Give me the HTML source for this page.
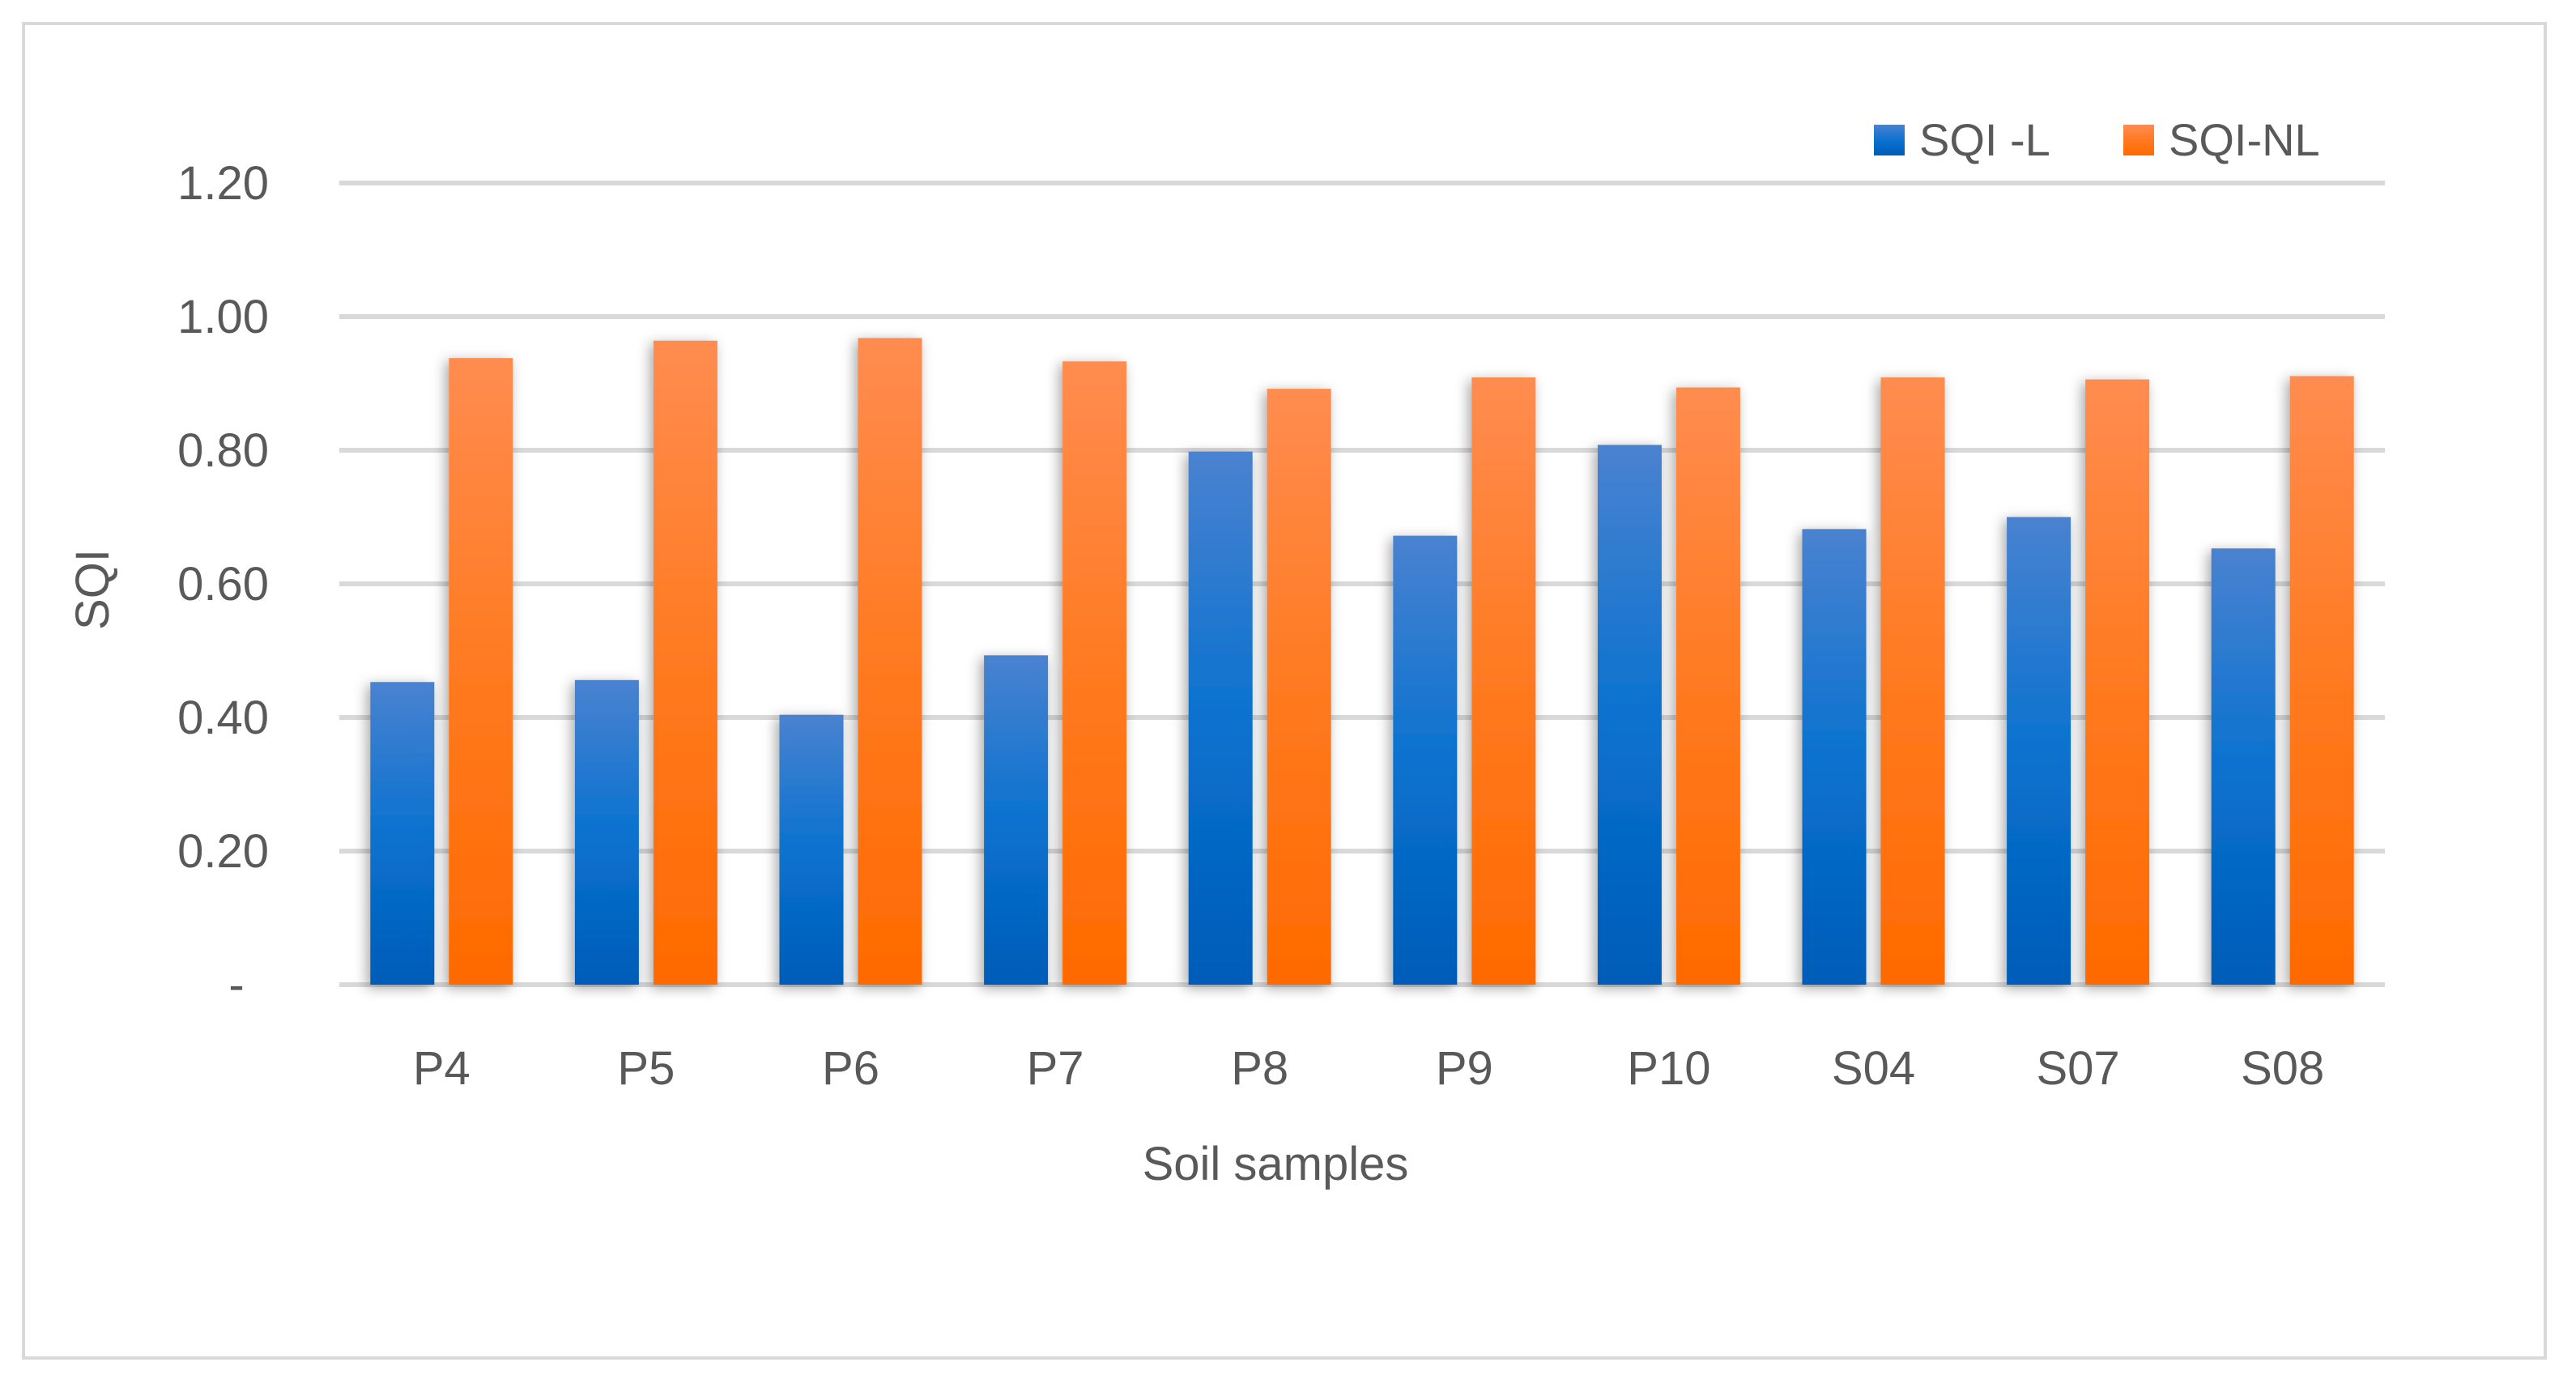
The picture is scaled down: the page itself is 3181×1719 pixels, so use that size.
<!DOCTYPE html>
<html><head><meta charset="utf-8"><style>
body{margin:0;background:#fff;}
svg{display:block;font-family:"Liberation Sans",sans-serif;}
</style></head><body>
<svg id="chart" width="3181" height="1719" viewBox="0 0 3181 1719" xmlns="http://www.w3.org/2000/svg">
<defs>
<linearGradient id="gb" x1="0" y1="0" x2="0" y2="1"><stop offset="0" stop-color="#4a82d0"/><stop offset="0.5" stop-color="#0a72cf"/><stop offset="1" stop-color="#005cb8"/></linearGradient>
<linearGradient id="go" x1="0" y1="0" x2="0" y2="1"><stop offset="0" stop-color="#ff8c50"/><stop offset="0.5" stop-color="#ff7a20"/><stop offset="1" stop-color="#ff6a00"/></linearGradient>
<filter id="sh" x="-30%" y="-10%" width="160%" height="120%"><feDropShadow dx="-4" dy="4" stdDeviation="8" flood-color="#000" flood-opacity="0.35"/></filter>
</defs>
<rect x="29" y="29" width="3114" height="1648" fill="#fff" stroke="#d9d9d9" stroke-width="4"/>
<g id="grid"></g>
<g id="bars"></g>
<g id="labels" fill="#595959" font-size="58"></g>
<text transform="translate(134,728) rotate(-90)" text-anchor="middle" fill="#595959" font-size="58">SQI</text>
<text x="1575" y="1457" text-anchor="middle" fill="#595959" font-size="58">Soil samples</text>
<g>
<rect x="2314" y="154" width="38" height="38" fill="url(#gb)"/>
<text x="2370" y="192" fill="#595959" font-size="56">SQI -L</text>
<rect x="2622" y="154" width="38" height="38" fill="url(#go)"/>
<text x="2678" y="192" fill="#595959" font-size="56">SQI-NL</text>
</g>
</svg>
<script>
const categories = ["P4","P5","P6","P7","P8","P9","P10","S04","S07","S08"];
const sqiL = [0.453,0.456,0.404,0.493,0.798,0.672,0.808,0.682,0.700,0.653];
const sqiNL = [0.938,0.964,0.968,0.933,0.892,0.909,0.894,0.909,0.906,0.911];
const tickValues = [0,0.2,0.4,0.6,0.8,1.0,1.2];
const tickLabels = ["-","0.20","0.40","0.60","0.80","1.00","1.20"];

const NS="http://www.w3.org/2000/svg";
const x0=419,x1=2945,yZero=1216,yPerUnit=825;
const y=v=>yZero-v*yPerUnit;
const band=(x1-x0)/categories.length;
const bw=79,gap=18;
function mk(tag,attrs,parent){const e=document.createElementNS(NS,tag);for(const k in attrs)e.setAttribute(k,attrs[k]);parent.appendChild(e);return e;}
const grid=document.getElementById('grid'),bars=document.getElementById('bars'),labels=document.getElementById('labels');
tickValues.forEach((v,i)=>{
  const l=mk('line',{x1:x0,x2:x1,y1:y(v),y2:y(v),stroke:'#d9d9d9','stroke-width':6},grid);
  
  
  const t=mk('text',{x:i===0?292:332,y:y(v)+20,'text-anchor':i===0?'middle':'end'},labels);
  t.textContent=tickLabels[i];
  
  
});
categories.forEach((c,i)=>{
  const cx=x0+band*(i+0.5);
  const b=mk('rect',{x:cx-gap/2-bw,y:y(sqiL[i]),width:bw,height:yZero-y(sqiL[i]),fill:'url(#gb)',filter:'url(#sh)'},bars);
  
  
  const o=mk('rect',{x:cx+gap/2,y:y(sqiNL[i]),width:bw,height:yZero-y(sqiNL[i]),fill:'url(#go)',filter:'url(#sh)'},bars);
  
  
  const t=mk('text',{x:cx,y:1339,'text-anchor':'middle'},labels);
  t.textContent=c;
  
  
});
</script>
</body></html>
